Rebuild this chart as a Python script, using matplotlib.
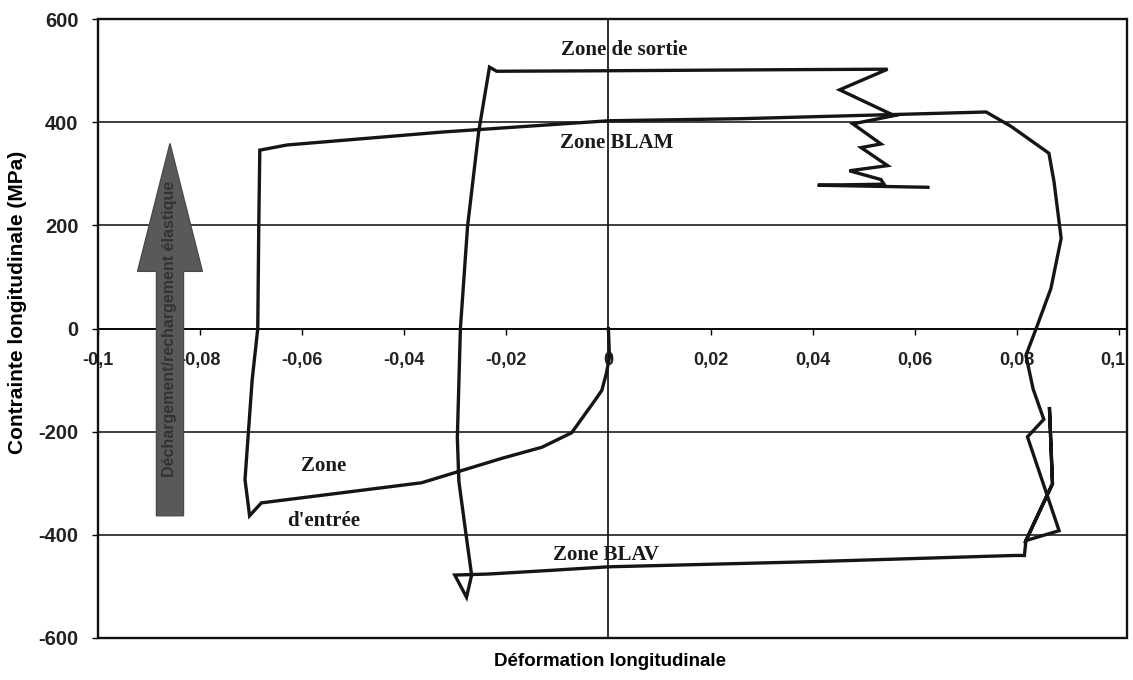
import numpy as np
import matplotlib
matplotlib.use("Agg")
import matplotlib.pyplot as plt
import matplotlib.transforms as mtransforms
from matplotlib.patches import FancyArrow, Rectangle

plt.rcParams['font.family'] = ['Liberation Sans', 'DejaVu Sans']
plt.rcParams['axes.unicode_minus'] = False

# --- stress/strain path ---
# entry zone, left unloading line, BLAM, right side, BLAV, inner line, exit zone
strain = [0.0, 0.0002, -0.0004, -0.0013, -0.0027, -0.0072, -0.013, -0.021,
          -0.0366, -0.068, -0.0703, -0.0712, -0.0705, -0.0698, -0.0687,
          -0.0685, -0.0683, -0.063, -0.0327, 0.0, 0.026, 0.074,
          0.0789, 0.0863, 0.0873, 0.0887, 0.0867, 0.0838, 0.0818, 0.0832,
          0.0853, 0.0821, 0.0883, 0.0818, 0.0870, 0.0864, 0.0870, 0.0818,
          0.0815, 0.0795,
          0.04, 0.0, -0.0115, -0.0235, -0.0301, -0.0278, -0.0268,
          -0.0279, -0.0293, -0.0296, -0.029, -0.0276, -0.0254, -0.0233,
          -0.0219, 0.0, 0.0338, 0.0547,
          0.0453, 0.056, 0.0479, 0.0534, 0.0495, 0.0547, 0.0472, 0.0534,
          0.054, 0.041, 0.0626]
stress = [0, -55, -87, -120, -140, -202, -230, -252,
          -299, -338, -363, -293, -196, -100, 0,
          200, 346, 356, 381, 403, 407, 420,
          392, 340, 285, 175, 78, 0, -52, -117,
          -176, -210, -392, -411, -301, -152, -301, -411,
          -440, -440,
          -452, -462, -469, -476, -478, -521, -478,
          -399, -296, -212, 0, 198, 383, 507,
          499, 500, 502, 503,
          463, 413, 397, 358, 351, 316, 306, 289,
          280, 278, 274]

x_ticks = [-0.1, -0.08, -0.06, -0.04, -0.02, 0, 0.02, 0.04, 0.06, 0.08, 0.1]
x_labels = ["-0,1", "-0,08", "-0,06", "-0,04", "-0,02", "0",
            "0,02", "0,04", "0,06", "0,08", "0,1"]
y_ticks = [-600, -400, -200, 0, 200, 400, 600]
y_labels = ["-600", "-400", "-200", "0", "200", "400", "600"]

zones = [("Zone de sortie", 0.003, 540), ("Zone BLAM", 0.0016, 359),
         ("Zone", -0.0558, -266), ("d'entrée", -0.0558, -373),
         ("Zone BLAV", -0.0004, -439)]

fig = plt.figure(figsize=(11.33, 6.8), dpi=100)
ax = fig.add_axes([98 / 1133, 0.0618, 1029 / 1133, 0.910])
ax.set_xlim(-0.1, 0.1016)
ax.set_ylim(-600, 600)

# horizontal grid + axes crossing at zero
for v in y_ticks[1:-1]:
    ax.axhline(v, color='#1e1e1e', lw=1.2, zorder=1)
ax.axvline(0, color='#1e1e1e', lw=1.3, zorder=1)

ax.spines['bottom'].set_position(('data', 0))
ax.spines['bottom'].set_linewidth(1.2)
for s in ['top', 'right', 'left']:
    ax.spines[s].set_visible(False)
ax.add_patch(Rectangle((0, 0), 1, 1, transform=ax.transAxes, fill=False,
                       lw=1.7, ec='#111111', clip_on=False, zorder=5))

ax.set_xticks(x_ticks)
ax.set_xticklabels(x_labels, fontsize=13, weight='bold', color='#222222')
ax.set_yticks(y_ticks)
ax.set_yticklabels(y_labels, fontsize=14.5, weight='bold', color='#222222')
ax.tick_params(axis='x', direction='out', length=4, width=1, pad=13)
ax.tick_params(axis='y', direction='out', length=4, width=1, pad=10)

# nudge the last x label so it stays inside the figure
last = ax.get_xticklabels()[-1]
last.set_transform(last.get_transform() +
                   mtransforms.ScaledTranslation(-6 / 100, 0, fig.dpi_scale_trans))

# arrow: elastic unloading / reloading
arrow = FancyArrow(-0.0859, -363, 0, 722, width=0.0053, head_width=0.0127,
                   head_length=248, length_includes_head=True,
                   facecolor='#595959', edgecolor='#4a4a4a', lw=1, zorder=3)
ax.add_patch(arrow)
ax.text(-0.0859, 0, "Déchargement/rechargement élastique", rotation=90,
        ha='center', va='center', fontsize=11.5, weight='bold',
        color='#333333', zorder=4)

ax.plot(strain, stress, color='#151515', lw=2.4, zorder=6,
        solid_joinstyle='miter')

for txt, x, y in zones:
    ax.text(x, y, txt, ha='center', va='center', fontsize=15,
            family=['Liberation Serif', 'DejaVu Serif'], weight='bold',
            color='#1a1a1a', zorder=7)

fig.text(610 / 1133, 1 - 662 / 680, "Déformation longitudinale",
         ha='center', va='center', fontsize=13.5, weight='bold')
fig.text(18 / 1133, 1 - 302 / 680, "Contrainte longitudinale (MPa)",
         ha='center', va='center', rotation=90, fontsize=15, weight='bold')

fig.savefig('out.png', dpi=100)
